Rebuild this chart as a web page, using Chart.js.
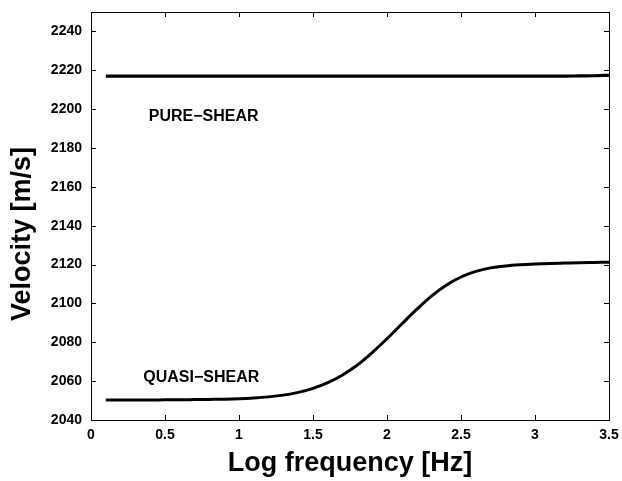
<!DOCTYPE html>
<html>
<head>
<meta charset="utf-8">
<script src="https://cdn.jsdelivr.net/npm/chart.js@4/dist/chart.umd.min.js"></script>
<style>
html,body{margin:0;padding:0;background:#fff;}
#wrap{width:622px;height:481px;}
</style>
</head>
<body>
<div id="wrap"><canvas id="c" width="622" height="481"></canvas></div>
<script>
// ---- data ----
const logFreq = [0.1,0.2,0.3,0.4,0.5,0.6,0.7,0.8,0.9,1.0,1.1,1.2,1.3,1.4,1.5,1.6,1.7,1.8,1.9,2.0,2.1,2.2,2.3,2.4,2.5,2.6,2.7,2.8,2.9,3.0,3.1,3.2,3.3,3.4,3.5];
const quasiShear = [2050.3,2050.3,2050.3,2050.3,2050.4,2050.4,2050.5,2050.6,2050.7,2050.9,2051.3,2051.9,2052.8,2054.2,2056.3,2059.2,2063.2,2068.3,2074.7,2081.8,2089.4,2096.9,2103.8,2109.4,2113.6,2116.5,2118.3,2119.3,2119.9,2120.3,2120.6,2120.8,2121.0,2121.1,2121.2];
const pureShear = [2217,2217,2217,2217,2217,2217,2217,2217,2217,2217,2217,2217,2217,2217,2217,2217,2217,2217,2217,2217,2217,2217,2217,2217,2217,2217,2217,2217,2217,2217,2217,2217,2217.1,2217.2,2217.4];
const xTicks = [0,0.5,1,1.5,2,2.5,3,3.5];
const yTicks = [2040,2060,2080,2100,2120,2140,2160,2180,2200,2220,2240];
const labelTexts = ['PURE\u2212SHEAR','QUASI\u2212SHEAR'];
const labelX = [0.39,0.353];
const labelY = [2196.3,2061.9];
const xTitle = 'Log frequency [Hz]';
const yTitle = 'Velocity [m/s]';

const FONT = "'Liberation Sans', Arial, Helvetica, sans-serif";

const toPts = (xs, ys) => xs.map((x,i)=>({x:x, y:ys[i]}));

const framePlugin = {
  id:'frame',
  afterDraw(chart){
    const {ctx, chartArea:a, scales:{x, y}} = chart;
    ctx.save();
    ctx.strokeStyle = '#000';
    ctx.lineWidth = 1;
    ctx.strokeRect(Math.round(a.left)+0.5, Math.round(a.top)+0.5, Math.round(a.right-a.left), Math.round(a.bottom-a.top));
    const L = 5;
    ctx.beginPath();
    xTicks.forEach(v=>{
      const px = Math.round(x.getPixelForValue(v))+0.5;
      ctx.moveTo(px, a.bottom); ctx.lineTo(px, a.bottom-L);
      ctx.moveTo(px, a.top); ctx.lineTo(px, a.top+L);
    });
    yTicks.forEach(v=>{
      const py = Math.round(y.getPixelForValue(v))+0.5;
      ctx.moveTo(a.left, py); ctx.lineTo(a.left+L, py);
      ctx.moveTo(a.right, py); ctx.lineTo(a.right-L, py);
    });
    ctx.stroke();
    // annotations
    ctx.fillStyle = '#000';
    ctx.font = 'bold 16px ' + FONT;
    ctx.textAlign = 'left';
    ctx.textBaseline = 'middle';
    labelTexts.forEach((t,i)=>{
      ctx.fillText(t, x.getPixelForValue(labelX[i]), y.getPixelForValue(labelY[i]));
    });
    // y title
    ctx.font = 'bold 27px ' + FONT;
    ctx.textAlign = 'center';
    ctx.textBaseline = 'middle';
    ctx.translate(23, 234);
    ctx.rotate(-Math.PI/2);
    ctx.fillText(yTitle, 0, 0);
    ctx.restore();
  }
};

new Chart(document.getElementById('c'), {
  type:'line',
  data:{
    datasets:[
      {label:'pure', data:toPts(logFreq, pureShear), borderColor:'#000', borderWidth:3.2, pointRadius:0, cubicInterpolationMode:'monotone', fill:false},
      {label:'quasi', data:toPts(logFreq, quasiShear), borderColor:'#000', borderWidth:3, pointRadius:0, cubicInterpolationMode:'monotone', fill:false}
    ]
  },
  options:{
    responsive:false,
    animation:false,
    devicePixelRatio:1,
    layout:{padding:{top:12,right:13,left:0,bottom:0}},
    plugins:{legend:{display:false}, tooltip:{enabled:false}},
    scales:{
      x:{
        type:'linear', min:0, max:3.5,
        afterBuildTicks:(s)=>{ s.ticks = xTicks.map(v=>({value:v})); },
        afterFit:(s)=>{ s.height = 61; s.paddingLeft = 0; s.paddingRight = 0; },
        grid:{display:false, drawTicks:false},
        border:{display:false},
        ticks:{color:'#000', font:{family:FONT, size:14, weight:'bold'}, padding:7, maxRotation:0, autoSkip:false, callback:(v)=>String(v)},
        title:{display:true, text:xTitle, color:'#000', font:{family:FONT, size:27, weight:'bold'}, padding:{top:0,bottom:1}}
      },
      y:{
        type:'linear', min:2040, max:2250,
        afterBuildTicks:(s)=>{ s.ticks = yTicks.map(v=>({value:v})); },
        afterFit:(s)=>{ s.width = 91; s.paddingTop = 0; s.paddingBottom = 0; },
        grid:{display:false, drawTicks:false},
        border:{display:false},
        ticks:{color:'#000', font:{family:FONT, size:14, weight:'bold'}, padding:9, autoSkip:false, callback:(v)=>String(v)},
        title:{display:false}
      }
    }
  },
  plugins:[framePlugin]
});
</script>
</body>
</html>
